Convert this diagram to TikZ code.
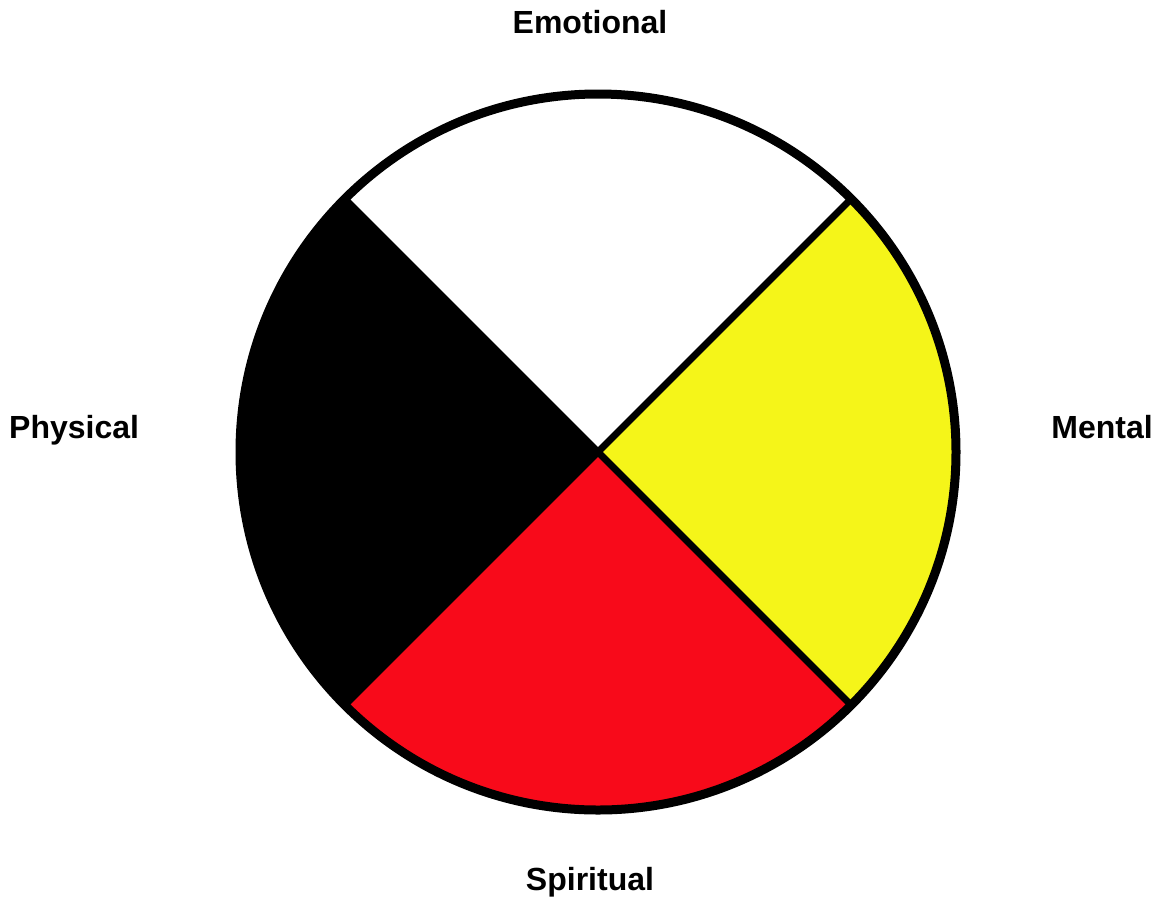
\documentclass[tikz,border=0pt]{standalone}
\usepackage{fontspec}
\setmainfont{Liberation Sans}
\usetikzlibrary{calc}
\definecolor{wyellow}{RGB}{245,245,25}
\definecolor{wred}{RGB}{248,10,26}
\begin{document}
\begin{tikzpicture}[x=1pt,y=-1pt,
  lbl/.style={font=\fontsize{32}{38}\selectfont\bfseries, inner sep=0pt}]
\useasboundingbox (0,0) rectangle (1159,898);
\coordinate (c) at (598,452);
\def\R{358}
% quadrants (y axis points down, so angles are mirrored)
\fill[white] (c) -- ++(-135:\R) arc[start angle=-135,end angle=-45,radius=\R] -- cycle;
\fill[wyellow] (c) -- ++(-45:\R) arc[start angle=-45,end angle=45,radius=\R] -- cycle;
\fill[wred] (c) -- ++(45:\R) arc[start angle=45,end angle=135,radius=\R] -- cycle;
\fill[black] (c) -- ++(135:\R) arc[start angle=135,end angle=225,radius=\R] -- cycle;
% dividers
\coordinate (ul) at ($(c)+(-135:\R)$);
\coordinate (ur) at ($(c)+(-45:\R)$);
\coordinate (lr) at ($(c)+(45:\R)$);
\coordinate (ll) at ($(c)+(135:\R)$);
\draw[line width=7pt] (ul) -- (lr);
\draw[line width=7pt] (ur) -- (ll);
\draw[line width=9pt] (c) circle[radius=\R];
% labels
\node[lbl, anchor=base] (emo) at (590,33) {Emotional};
\node[lbl, anchor=base west] (phy) at (9,438) {Physical};
\node[lbl, anchor=base east] (men) at (1153,438) {Mental};
\node[lbl, anchor=base] (spi) at (590,890) {Spiritual};
\end{tikzpicture}
\end{document}
